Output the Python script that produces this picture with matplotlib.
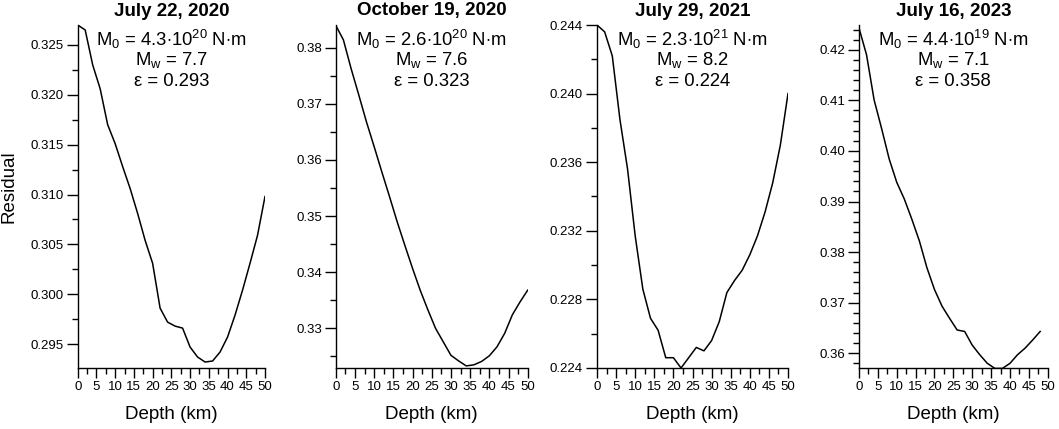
import matplotlib
matplotlib.use("Agg")
import matplotlib.pyplot as plt
from matplotlib.ticker import MultipleLocator, FormatStrFormatter

plt.rcParams['font.family'] = ['Liberation Sans', 'DejaVu Sans']
plt.rcParams['mathtext.fontset'] = 'custom'
plt.rcParams['mathtext.rm'] = 'Liberation Sans'
plt.rcParams['mathtext.it'] = 'Liberation Sans'

# depth samples (km)
depth = [0, 2, 4, 6, 8, 10, 12, 14, 16, 18, 20, 22, 24, 26, 28, 30, 32, 34, 36, 38, 40, 42, 44, 46, 48, 50]
depth_2023 = depth[:-1]

# residual curves
res_2020_07 = [0.3270, 0.3265, 0.3230, 0.3206, 0.3170, 0.3151, 0.3128, 0.3106, 0.3081, 0.3054,
               0.3031, 0.2986, 0.2972, 0.2968, 0.2966, 0.2947, 0.2937, 0.2932, 0.2933, 0.2942,
               0.2957, 0.2979, 0.3004, 0.3031, 0.3059, 0.3098]
res_2020_10 = [0.3840, 0.3814, 0.3763, 0.3716, 0.3668, 0.3624, 0.3579, 0.3535, 0.3490, 0.3448,
               0.3407, 0.3368, 0.3333, 0.3300, 0.3276, 0.3252, 0.3242, 0.3233, 0.3235, 0.3241,
               0.3251, 0.3267, 0.3291, 0.3324, 0.3347, 0.3368]
res_2021_07 = [0.2440, 0.2436, 0.2422, 0.2385, 0.2356, 0.2317, 0.2286, 0.2269, 0.2262, 0.2246,
               0.2246, 0.2240, 0.2246, 0.2252, 0.2250, 0.2256, 0.2267, 0.2284, 0.2291, 0.2297,
               0.2306, 0.2317, 0.2331, 0.2348, 0.2370, 0.2400]
res_2023_07 = [0.4243, 0.4190, 0.4101, 0.4044, 0.3984, 0.3938, 0.3905, 0.3865, 0.3822, 0.3769,
               0.3726, 0.3693, 0.3669, 0.3646, 0.3643, 0.3616, 0.3597, 0.3580, 0.3570, 0.3570,
               0.3580, 0.3597, 0.3610, 0.3626, 0.3643]

titles = ['July 22, 2020', 'October 19, 2020', 'July 29, 2021', 'July 16, 2023']
moments = [r'M$_0$ = 4.3$\cdot$10$^{20}$ N$\cdot$m', r'M$_0$ = 2.6$\cdot$10$^{20}$ N$\cdot$m',
           r'M$_0$ = 2.3$\cdot$10$^{21}$ N$\cdot$m', r'M$_0$ = 4.4$\cdot$10$^{19}$ N$\cdot$m']
magnitudes = ['7.7', '7.6', '8.2', '7.1']
eps = ['0.293', '0.323', '0.224', '0.358']

panels = [
    (depth, res_2020_07, (0.2926, 0.327), 0.005, 0.0025, '%.3f'),
    (depth, res_2020_10, (0.32293, 0.38404), 0.01, 0.005, '%.2f'),
    (depth, res_2021_07, (0.224, 0.244), 0.004, 0.002, '%.3f'),
    (depth_2023, res_2023_07, (0.35708, 0.4249), 0.01, 0.002, '%.2f'),
]
lefts = [77.7, 335.7, 597, 859]
rights = [265, 527.7, 788, 1047.7]

W, H = 1059, 429
fig = plt.figure(figsize=(W / 100, H / 100), dpi=100)

for i, (x, y, ylim, major, minor, fmt) in enumerate(panels):
    ax = fig.add_axes([lefts[i] / W, 1 - 368 / H, (rights[i] - lefts[i]) / W, (368 - 25) / H])
    ax.plot(x, y, color='black', lw=1.1)
    ax.set_xlim(0, 50)
    ax.set_ylim(*ylim)
    for s in ['top', 'right']:
        ax.spines[s].set_visible(False)
    for s in ['left', 'bottom']:
        ax.spines[s].set_linewidth(1.0)
    ax.xaxis.set_major_locator(MultipleLocator(5))
    ax.xaxis.set_minor_locator(MultipleLocator(2.5))
    ax.yaxis.set_major_locator(MultipleLocator(major))
    ax.yaxis.set_minor_locator(MultipleLocator(minor))
    ax.yaxis.set_major_formatter(FormatStrFormatter(fmt))
    ax.tick_params(axis='x', which='major', length=7, width=1, pad=2, labelsize=9.5)
    ax.tick_params(axis='x', which='minor', length=4, width=1)
    ax.tick_params(axis='y', which='major', length=8, width=1, pad=2, labelsize=9.5)
    ax.tick_params(axis='y', which='minor', length=4, width=1)
    ax.set_xlabel('Depth (km)', fontsize=13.5)
    ax.xaxis.set_label_coords(0.5, -0.137)
    ax.xaxis.label.set_va('center')
    if i == 0:
        ax.set_ylabel('Residual', fontsize=13.5)
        ax.yaxis.set_label_coords((9.5 - lefts[0]) / (rights[0] - lefts[0]), (368 - 187) / 343)
        ax.yaxis.label.set_va('center')

    cx = (lefts[i] + rights[i]) / 2 / W
    fig.text(cx, 1 - 11 / H, titles[i], ha='center', va='center', fontsize=13.5, fontweight='bold')
    fig.text(cx, 1 - 39 / H, moments[i], ha='center', va='center', fontsize=13.3)
    fig.text(cx, 1 - 60 / H, r'M$_w$ = ' + magnitudes[i], ha='center', va='center', fontsize=13.3)
    fig.text(cx, 1 - 81 / H, 'ε = ' + eps[i], ha='center', va='center', fontsize=13.3)

fig.savefig('out.png', dpi=100)
